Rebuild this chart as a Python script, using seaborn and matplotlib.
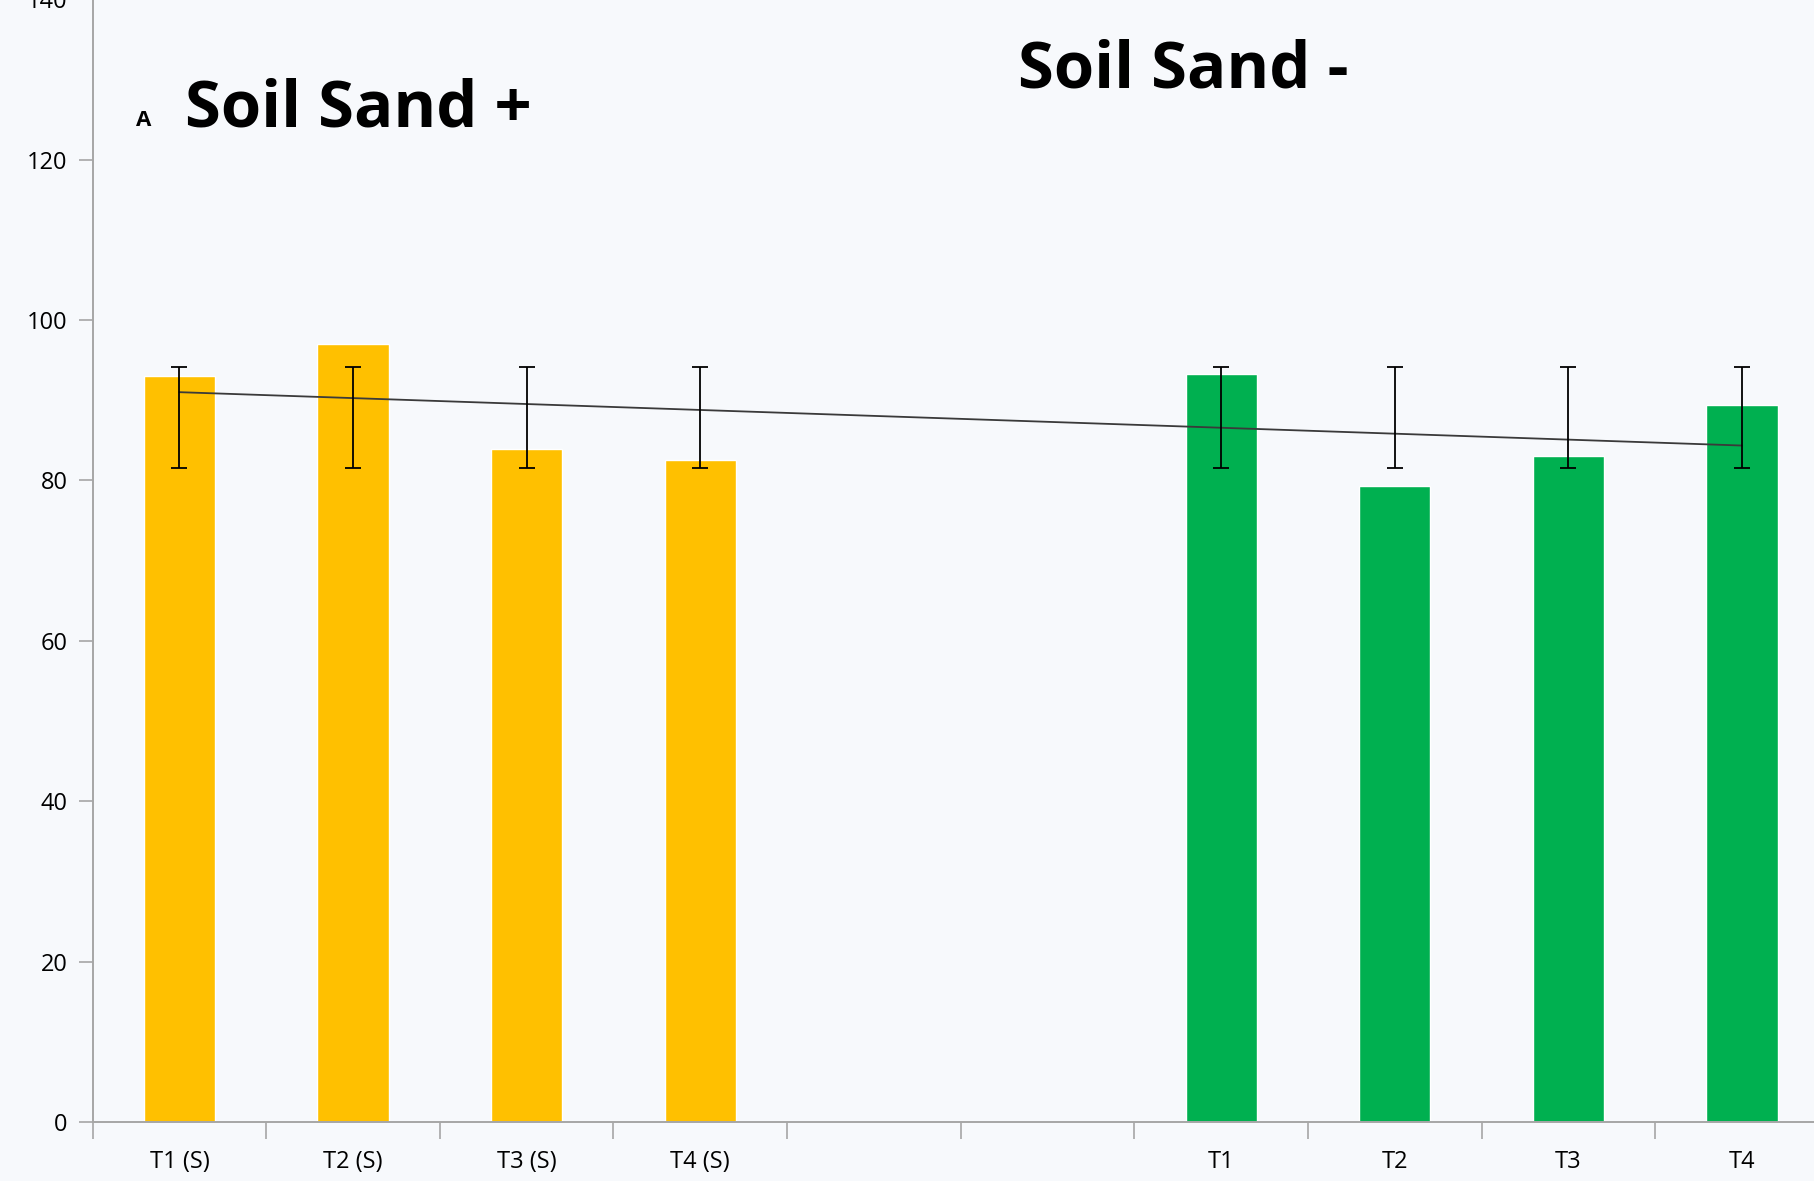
import numpy as np
import matplotlib
matplotlib.use("Agg")
import matplotlib.pyplot as plt
import pandas as pd
import seaborn as sns

# values
categories = ["T1 (S)", "T2 (S)", "T3 (S)", "T4 (S)", "T1", "T2", "T3", "T4"]
groups = ["Sand +"] * 4 + ["Sand -"] * 4
values = [93.0, 97.0, 83.9, 82.6, 93.3, 79.3, 83.0, 89.4]
err_low = [81.5] * 8
err_high = [94.2] * 8
# two empty slots between the groups
order = ["T1 (S)", "T2 (S)", "T3 (S)", "T4 (S)", " ", "  ", "T1", "T2", "T3", "T4"]
tick_labels = ["T1 (S)", "T2 (S)", "T3 (S)", "T4 (S)", "", "", "T1", "T2", "T3", "T4"]
colors = {"Sand +": "#FFC000", "Sand -": "#00B050"}

df = pd.DataFrame({"cat": categories, "group": groups, "val": values})
df["pos"] = [order.index(c) for c in df["cat"]]

sns.set_style("white")
plt.rcParams["font.family"] = ["Open Sans", "DejaVu Sans"]
plt.rcParams["text.color"] = "black"
plt.rcParams["xtick.color"] = "black"
plt.rcParams["ytick.color"] = "black"

bg = "#F7F9FC"
fig = plt.figure(figsize=(18.15, 11.81), dpi=100, facecolor=bg)
ax = fig.add_axes([0.051, 0.05, 0.9566, 0.9505])
ax.set_facecolor(bg)

sns.barplot(data=df, x="cat", y="val", hue="group", order=order,
            palette=colors, width=0.41, dodge=False, legend=False,
            saturation=1, ax=ax)

# linear trend line over all bars
sns.regplot(data=df, x="pos", y="val", scatter=False, ci=None, truncate=True,
            color="#3a3a3a", line_kws={"lw": 1.3}, ax=ax)

lo = np.array(err_low)
hi = np.array(err_high)
ax.errorbar(df["pos"], (lo + hi) / 2, yerr=(hi - lo) / 2, fmt="none",
            ecolor="black", elinewidth=1.3, capsize=6, capthick=1.3)

ax.set_xlim(-0.5, 9.5)
ax.set_ylim(0, 140)
ax.set_xlabel("")
ax.set_ylabel("")

ax.set_xticks(range(len(order)))
ax.set_xticklabels(tick_labels)
ax.set_xticks(np.arange(-0.5, 10, 1), minor=True)
ax.tick_params(axis="x", which="major", bottom=True, length=0, pad=20,
               labelsize=17, labelcolor="black")
ax.tick_params(axis="x", which="minor", bottom=True, length=12,
               color="#A6A6A6", width=1.2)
ax.set_yticks(np.arange(0, 141, 20))
ax.tick_params(axis="y", left=True, length=10, color="#A6A6A6", width=1.2,
               pad=8, labelsize=17, labelcolor="black")

for s in ["top", "right"]:
    ax.spines[s].set_visible(False)
for s in ["left", "bottom"]:
    ax.spines[s].set_color("#A6A6A6")
    ax.spines[s].set_linewidth(1.4)

fig.text(0.075, 0.893, "A", fontsize=16, fontweight="bold", color="black")
fig.text(0.102, 0.893, "Soil Sand +", fontsize=47, fontweight="bold", color="black")
fig.text(0.561, 0.926, "Soil Sand -", fontsize=47, fontweight="bold", color="black")

fig.savefig("out.png", dpi=100, facecolor=bg)
